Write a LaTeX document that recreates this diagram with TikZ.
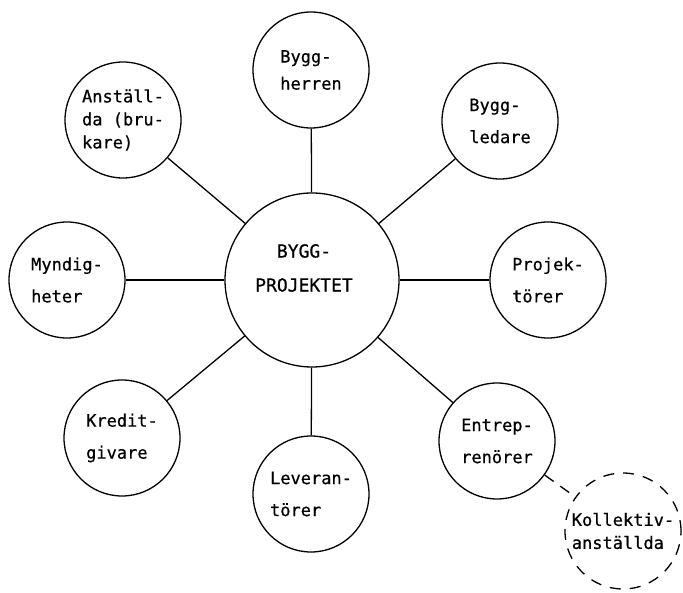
\documentclass[tikz,border=0pt]{standalone}
\usepackage{fontspec}
\newfontfamily\typewriter[FakeBold=0.6]{DejaVu Sans Mono}
\begin{document}
\begin{tikzpicture}[x=1pt,y=-1pt,
  ring/.style={draw, circle, line width=1.3pt, minimum size=116pt, inner sep=0pt,
    align=left, font=\fontsize{17pt}{32pt}\selectfont\typewriter},
  hubring/.style={draw, circle, line width=1.3pt, minimum size=174pt, inner sep=0pt},
  spoke/.style={line width=1.3pt},
  dashring/.style={ring, dash pattern=on 11pt off 9pt, font=\fontsize{17pt}{23pt}\selectfont\typewriter},
  dashspoke/.style={line width=1.3pt, dash pattern=on 11pt off 8pt}]
\useasboundingbox (0,0) rectangle (683,593);
\fill[white] (0,0) rectangle (683,593);

% central node
\node[hubring] (hub) at (312,280) {};
\node[align=center, font=\fontsize{18pt}{34pt}\selectfont\typewriter] (hubtext) at (304,268) {BYGG-\\PROJEKTET};

% surrounding parties
\node[ring] (herr)  at (311,70)  {Bygg-\\[-5pt]herren};
\node[ring] (led)   at (500,121) {Bygg-\\ledare};
\node[ring] (proj)  at (548,280) {Projek-\\törer};
\node[ring] (entr)  at (497,441) {Entrep-\\renörer};
\node[ring] (lev)   at (311,494) {Leveran-\\törer};
\node[ring] (kred)  at (122,438) {Kredit-\\givare};
\node[ring] (mynd)  at (67,280)  {Myndig-\\heter};
\node[ring, font=\fontsize{17pt}{23pt}\selectfont\typewriter] (anst) at (123,120) {Anställ-\\da (bru-\\kare)};
\node[dashring] (koll) at (623,531) {Kollektiv-\\anställda};

% spokes
\foreach \n in {herr,led,proj,entr,lev,kred,mynd,anst}
  \draw[spoke] (hub) -- (\n);
\draw[dashspoke] (entr) -- (koll);
\end{tikzpicture}
\end{document}
